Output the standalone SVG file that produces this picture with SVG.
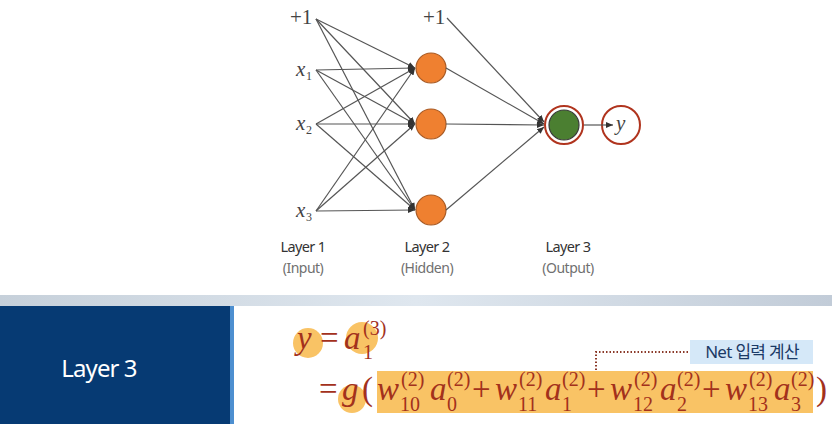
<svg xmlns="http://www.w3.org/2000/svg" width="832" height="424" viewBox="0 0 832 424">
<defs>
<marker id="arr" markerWidth="8" markerHeight="8" refX="7" refY="4" orient="auto" markerUnits="userSpaceOnUse">
<path d="M0,1 L7,4 L0,7 Z" fill="#333"/>
</marker>
<linearGradient id="bar" x1="0" y1="0" x2="1" y2="0">
<stop offset="0" stop-color="#c6d0da"/>
<stop offset="0.5" stop-color="#dfe7ef"/>
<stop offset="1" stop-color="#c2ccd8"/>
</linearGradient>
<style>
.ln{stroke:#555;stroke-width:1.2;fill:none}
.lna{stroke:#555;stroke-width:1.2;fill:none;marker-end:url(#arr)}
.hid{fill:#ef8030;stroke:#a85a24;stroke-width:1.2}
.sym{font-family:"Liberation Serif",serif;font-size:21px;fill:#444}
.sm{font-family:"Liberation Serif",serif;font-size:12px;fill:#444}
.lay{font-family:"Noto Sans","Liberation Sans",sans-serif;font-size:14.5px;fill:#333;text-anchor:middle;letter-spacing:-0.6px}
.sub{font-family:"Noto Sans","Liberation Sans",sans-serif;font-size:14px;fill:#707070;text-anchor:middle;letter-spacing:-0.5px}
.f{font-family:"Liberation Serif",serif;fill:#a3311c}
.it{font-style:italic;font-size:33px}
.rm{font-size:33px}
.ss{font-size:20px}
.hl{fill:#f8b84a;opacity:0.85}
</style>
</defs>
<rect width="832" height="424" fill="#fff"/>
<g id="in_bias"><text class="sym" x="290" y="24">+1</text></g>
<g id="in_x1"><text class="sym" x="296" y="76" font-style="italic">x</text><text class="sm" x="306" y="80">1</text></g>
<g id="in_x2"><text class="sym" x="296" y="130" font-style="italic">x</text><text class="sm" x="306" y="134">2</text></g>
<g id="in_x3"><text class="sym" x="296" y="217" font-style="italic">x</text><text class="sm" x="306" y="221">3</text></g>
<g id="hid_bias"><text class="sym" x="423" y="24">+1</text></g>
<g id="h1"><circle class="hid" cx="431" cy="68" r="15"/></g>
<g id="h2"><circle class="hid" cx="431" cy="124" r="15"/></g>
<g id="h3"><circle class="hid" cx="431" cy="210" r="15"/></g>
<g id="out"><circle cx="564" cy="125" r="19" fill="#fff" stroke="#b0341e" stroke-width="2"/><circle cx="564" cy="125" r="15" fill="#4b7f31" stroke="#3a3a3a" stroke-width="1.2"/></g>
<g id="y_node"><circle cx="621" cy="125" r="19" fill="#fff" stroke="#b0341e" stroke-width="2"/><text class="sym" x="616" y="130" font-style="italic">y</text></g>
<g id="connectors">
<path class="lna" d="M316,19 L415,68"/>
<path class="lna" d="M316,19 L415,124"/>
<path class="lna" d="M316,19 L415,210"/>
<path class="lna" d="M316,70 L415,68"/>
<path class="lna" d="M316,70 L415,124"/>
<path class="lna" d="M316,70 L415,210"/>
<path class="lna" d="M316,124 L415,68"/>
<path class="lna" d="M316,124 L415,124"/>
<path class="lna" d="M316,124 L415,210"/>
<path class="lna" d="M316,211 L415,68"/>
<path class="lna" d="M316,211 L415,124"/>
<path class="lna" d="M316,211 L415,210"/>
<path class="lna" d="M447,18 L544,122"/>
<path class="lna" d="M446,68 L544,124"/>
<path class="lna" d="M446,124 L544,125"/>
<path class="lna" d="M446,210 L544,127"/>
<path class="lna" d="M584,125 L613,125"/>
</g>
<g id="labels">
<text class="lay" x="303" y="252">Layer 1</text>
<text class="sub" x="303" y="273">(Input)</text>
<text class="lay" x="427" y="252">Layer 2</text>
<text class="sub" x="427" y="273">(Hidden)</text>
<text class="lay" x="568" y="252">Layer 3</text>
<text class="sub" x="568" y="273">(Output)</text>
</g>
<rect x="0" y="295" width="832" height="11" fill="url(#bar)"/>
<g id="side">
<rect x="0" y="306" width="230" height="118" fill="#063a73"/>
<rect x="230" y="306" width="4" height="118" fill="#4d8fd0"/>
<text x="99" y="377" font-family="Noto Sans,Liberation Sans,sans-serif" font-size="24px" fill="#fff" text-anchor="middle" letter-spacing="-0.9px">Layer 3</text>
</g>
<g id="formula">
<circle class="hl" cx="308" cy="343" r="15"/>
<circle class="hl" cx="362" cy="338" r="16"/>
<circle class="hl" cx="352" cy="399" r="14"/>
<rect class="hl" x="377" y="371" width="436" height="42"/>
<text class="f it" x="297" y="349">y</text>
<text class="f rm" x="320" y="349">=</text>
<text class="f it" x="344" y="349">a</text>
<text class="f ss" x="363" y="359">1</text>
<text class="f ss" x="363" y="335">(3)</text>
<text class="f rm" x="319" y="400">=</text>
<text class="f it" x="342" y="400">g</text>
<text class="f rm" x="362" y="400">(</text>
<text class="f it" x="377" y="400">w</text>
<text class="f ss" x="400" y="411">10</text>
<text class="f ss" x="401" y="386">(2)</text>
<text class="f it" x="430" y="400">a</text>
<text class="f ss" x="447" y="411">0</text>
<text class="f ss" x="447" y="386">(2)</text>
<text class="f rm" x="472" y="400">+</text>
<text class="f it" x="495" y="400">w</text>
<text class="f ss" x="518" y="411">11</text>
<text class="f ss" x="519" y="386">(2)</text>
<text class="f it" x="545" y="400">a</text>
<text class="f ss" x="562" y="411">1</text>
<text class="f ss" x="562" y="386">(2)</text>
<text class="f rm" x="587" y="400">+</text>
<text class="f it" x="610" y="400">w</text>
<text class="f ss" x="633" y="411">12</text>
<text class="f ss" x="634" y="386">(2)</text>
<text class="f it" x="660" y="400">a</text>
<text class="f ss" x="677" y="411">2</text>
<text class="f ss" x="677" y="386">(2)</text>
<text class="f rm" x="702" y="400">+</text>
<text class="f it" x="725" y="400">w</text>
<text class="f ss" x="748" y="411">13</text>
<text class="f ss" x="749" y="386">(2)</text>
<text class="f it" x="774" y="400">a</text>
<text class="f ss" x="791" y="411">3</text>
<text class="f ss" x="791" y="386">(2)</text>
<text class="f rm" x="816" y="400">)</text>
</g>
<g id="note">
<path d="M688,352 H596 V371" fill="none" stroke="#8b3a2a" stroke-width="2" stroke-dasharray="1.5 2"/>
<rect x="690" y="340" width="123" height="24" fill="#d5e8f8"/>
<text x="752" y="358" font-family="Noto Sans,Noto Sans CJK KR,sans-serif" font-size="17px" fill="#1b3a66" text-anchor="middle" letter-spacing="-0.7px">Net 입력 계산</text>
</g>
</svg>
